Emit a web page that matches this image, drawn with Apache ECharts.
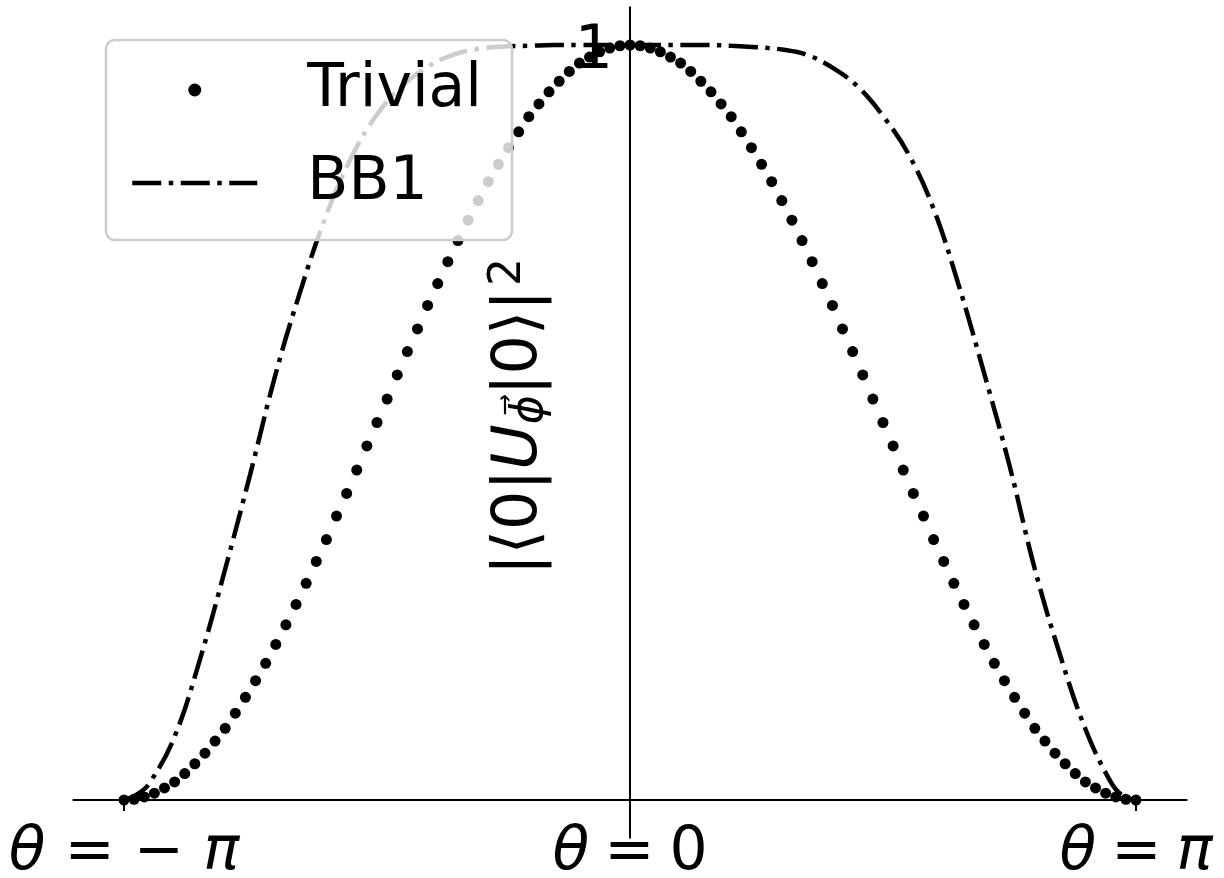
<!DOCTYPE html>
<html>
<head>
<meta charset="utf-8">
<script src="https://cdn.jsdelivr.net/npm/echarts@6/dist/echarts.min.js"></script>
<style>
  html, body { margin: 0; padding: 0; background: #ffffff; }
  #chart { width: 1224px; height: 878px; }
</style>
</head>
<body>
<div id="chart"></div>
<script>
// Rotation angle, in units of pi, for the sampled "Trivial" points
const thetaDots = [
  -1.00,-0.98,-0.96,-0.94,-0.92,-0.90,-0.88,-0.86,-0.84,-0.82,
  -0.80,-0.78,-0.76,-0.74,-0.72,-0.70,-0.68,-0.66,-0.64,-0.62,
  -0.60,-0.58,-0.56,-0.54,-0.52,-0.50,-0.48,-0.46,-0.44,-0.42,
  -0.40,-0.38,-0.36,-0.34,-0.32,-0.30,-0.28,-0.26,-0.24,-0.22,
  -0.20,-0.18,-0.16,-0.14,-0.12,-0.10,-0.08,-0.06,-0.04,-0.02,
   0.00,
   0.02, 0.04, 0.06, 0.08, 0.10, 0.12, 0.14, 0.16, 0.18, 0.20,
   0.22, 0.24, 0.26, 0.28, 0.30, 0.32, 0.34, 0.36, 0.38, 0.40,
   0.42, 0.44, 0.46, 0.48, 0.50, 0.52, 0.54, 0.56, 0.58, 0.60,
   0.62, 0.64, 0.66, 0.68, 0.70, 0.72, 0.74, 0.76, 0.78, 0.80,
   0.82, 0.84, 0.86, 0.88, 0.90, 0.92, 0.94, 0.96, 0.98, 1.00
];

// |<0|U|0>|^2 for the plain rotation
const trivial = [
  0.000,0.001,0.004,0.009,0.016,0.024,0.035,0.048,0.062,0.078,
  0.095,0.115,0.136,0.158,0.181,0.206,0.232,0.259,0.287,0.316,
  0.345,0.376,0.406,0.437,0.469,0.500,0.531,0.563,0.594,0.624,
  0.655,0.684,0.713,0.741,0.768,0.794,0.819,0.842,0.864,0.885,
  0.905,0.922,0.938,0.952,0.965,0.976,0.984,0.991,0.996,0.999,
  1.000,
  0.999,0.996,0.991,0.984,0.976,0.965,0.952,0.938,0.922,0.905,
  0.885,0.864,0.842,0.819,0.794,0.768,0.741,0.713,0.684,0.655,
  0.624,0.594,0.563,0.531,0.500,0.469,0.437,0.406,0.376,0.345,
  0.316,0.287,0.259,0.232,0.206,0.181,0.158,0.136,0.115,0.095,
  0.078,0.062,0.048,0.035,0.024,0.016,0.009,0.004,0.001,0.000
];

// Rotation angle, in units of pi, for the BB1 curve
const thetaLine = [
  -1.00,-0.975,-0.95,-0.90,-0.85,-0.80,-0.75,-0.70,-0.65,-0.60,-0.55,
  -0.50,-0.45,-0.40,-0.35,-0.30,-0.25,-0.20,-0.15,-0.10,-0.05,
   0.00,
   0.05, 0.10, 0.15, 0.20, 0.25, 0.30, 0.35, 0.40, 0.45, 0.50,
   0.55, 0.60, 0.65, 0.70, 0.75, 0.80, 0.85, 0.90, 0.95, 0.975, 1.00
];

// |<0|U|0>|^2 for the BB1 composite sequence
const bb1 = [
  0.000,0.007,0.022,0.084,0.186,0.306,0.433,0.565,0.677,0.775,0.852,
  0.908,0.946,0.971,0.987,0.995,0.998,0.999,1.000,1.000,1.000,
  1.000,
  1.000,1.000,1.000,0.999,0.997,0.994,0.987,0.970,0.945,0.906,
  0.856,0.783,0.681,0.565,0.443,0.306,0.192,0.094,0.024,0.005,0.000
];

// Tick positions (units of pi) and their labels
const xTicks = [-1, 0, 1];
const xTickLabels = ['{i|θ} = − {i|π}', '{i|θ}\u2005=\u20050', '{i|θ}\u2005=\u2005{i|π}'];
const yTicks = [1];
const yTickLabels = ['1'];
const yAxisTitle = '{a||⟨0|}{u|U}{s|ϕ⃗}{a||0⟩|}{p|2}';

const seriesNames = ['Trivial', 'BB1'];

const FONT = 'DejaVu Sans';
const FS = 60;
const DASH_DOT = [29, 7.5, 4.5, 7.5];

const chart = echarts.init(document.getElementById('chart'), null, { renderer: 'canvas' });

const option = {
  backgroundColor: '#ffffff',
  animation: false,
  textStyle: { fontFamily: FONT },
  grid: {
    left: 73.4, right: 37.4, top: 7.25, bottom: 40.25,
    containLabel: false,
    outerBoundsMode: 'none'
  },
  legend: {
    orient: 'vertical',
    left: 106,
    top: 40,
    padding: [15, 30, 22, 24],
    itemGap: 23,
    itemWidth: 125,
    itemHeight: 13,
    backgroundColor: 'rgba(255,255,255,0.8)',
    borderColor: '#cccccc',
    borderWidth: 2.5,
    borderRadius: 9,
    selectedMode: false,
    z: 10,
    data: [
      { name: seriesNames[0], itemStyle: { color: '#000000', opacity: 1 } },
      {
        name: seriesNames[1],
        itemStyle: { opacity: 0 },
        lineStyle: { color: '#000000', width: 4.5, type: DASH_DOT, opacity: 1 }
      }
    ],
    textStyle: {
      fontFamily: FONT,
      fontSize: FS,
      color: '#000000',
      lineHeight: 70,
      padding: [0, 0, 0, 45]
    }
  },
  xAxis: {
    type: 'value',
    min: -1.1,
    max: 1.1,
    axisLine: { onZero: true, lineStyle: { color: '#000000', width: 2 } },
    axisTick: { show: true, customValues: xTicks, length: 11, lineStyle: { color: '#000000', width: 2 } },
    splitLine: { show: false },
    axisLabel: { show: false }
  },
  yAxis: {
    type: 'value',
    min: -0.05,
    max: 1.05,
    axisLine: { onZero: true, lineStyle: { color: '#000000', width: 2 } },
    axisTick: { show: true, customValues: yTicks, length: 11, lineStyle: { color: '#000000', width: 2 } },
    splitLine: { show: false },
    axisLabel: { show: false }
  },
  series: [
    {
      name: seriesNames[0],
      type: 'scatter',
      data: thetaDots.map((t, i) => [t, trivial[i]]),
      symbol: 'circle',
      symbolSize: 11,
      itemStyle: { color: '#000000', opacity: 1 },
      z: 2
    },
    {
      name: seriesNames[1],
      type: 'line',
      data: thetaLine.map((t, i) => [t, bb1[i]]),
      showSymbol: false,
      symbol: 'none',
      smooth: 0.4,
      color: '#000000',
      lineStyle: { color: '#000000', width: 4.5, type: DASH_DOT, cap: 'butt' },
      z: 3
    }
  ]
};

chart.setOption(option);

// Tick labels and the axis title sit next to the axes that cross at the origin
const toPx = (x, y) => chart.convertToPixel({ gridIndex: 0 }, [x, y]);
const origin = toPx(0, 0);
const graphics = [];

xTicks.forEach((t, k) => {
  const p = toPx(t, 0);
  graphics.push({
    type: 'text',
    x: p[0],
    y: origin[1] + 53,
    z: 20,
    style: {
      text: xTickLabels[k],
      fontFamily: FONT,
      fontSize: FS,
      fill: '#000000',
      align: 'center',
      verticalAlign: 'middle',
      rich: {
        i: { fontFamily: FONT, fontStyle: 'italic', fontSize: FS, fill: '#000000' }
      }
    }
  });
});

yTicks.forEach((t, k) => {
  const p = toPx(0, t);
  graphics.push({
    type: 'text',
    x: origin[0] - 17,
    y: p[1] + 7,
    z: 20,
    style: {
      text: yTickLabels[k],
      fontFamily: FONT,
      fontSize: FS,
      fill: '#000000',
      align: 'right',
      verticalAlign: 'middle'
    }
  });
});

const mid = toPx(0, 0.5);
graphics.push({
  type: 'text',
  x: origin[0] - 110,
  y: mid[1] - 6,
  rotation: Math.PI / 2,
  z: 20,
  style: {
    text: yAxisTitle,
    fontFamily: FONT,
    fontSize: 62,
    fill: '#000000',
    align: 'center',
    verticalAlign: 'middle',
    rich: {
      a: { fontFamily: FONT, fontSize: 62, fill: '#000000', lineHeight: 66 },
      u: { fontFamily: FONT, fontStyle: 'italic', fontSize: 62, fill: '#000000', lineHeight: 66 },
      s: { fontFamily: FONT, fontStyle: 'italic', fontSize: 44, fill: '#000000', lineHeight: 28, verticalAlign: 'bottom' },
      p: { fontFamily: FONT, fontSize: 44, fill: '#000000', lineHeight: 12, verticalAlign: 'top', padding: [0, 0, 0, 4] }
    }
  }
});

chart.setOption({ graphic: graphics });
</script>
</body>
</html>
